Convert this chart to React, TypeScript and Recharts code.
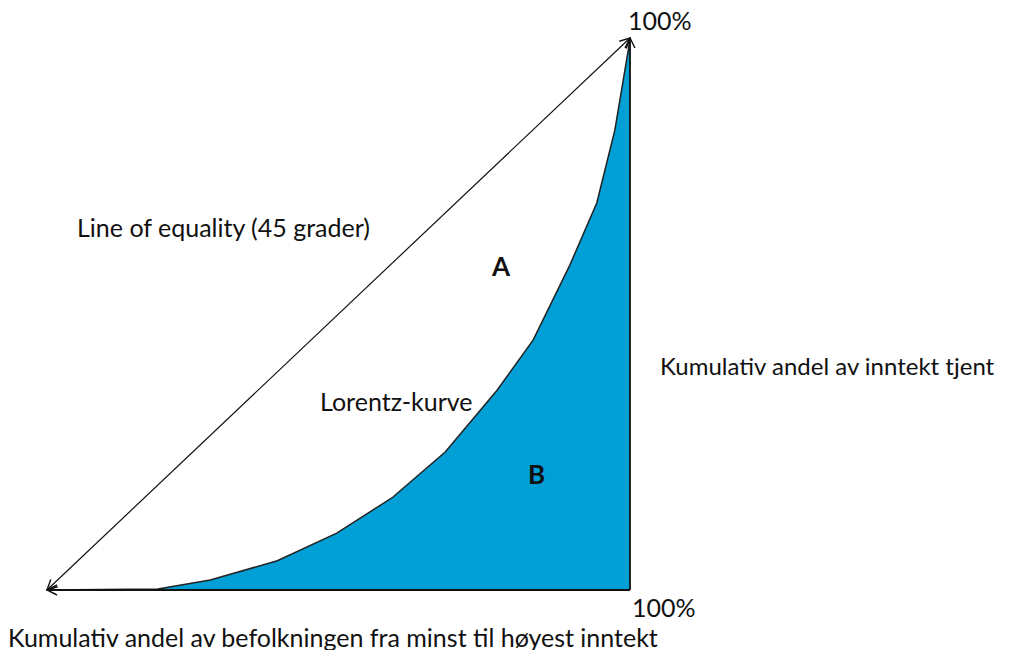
import { ComposedChart, Area, Line, XAxis, YAxis } from "recharts";

// Lorenz curve (% of population, % of income)
const popShare = [0, 19, 28, 39.5, 49.7, 59.3, 68.3, 77.2, 83.4, 89.7, 94.3, 97.4, 99.7, 100];
const incomeShare = [0, 0.2, 1.8, 5.3, 10.3, 16.8, 25, 36.2, 45.3, 58.9, 70.1, 83.3, 97.8, 100];

const equalityX = [0, 100];
const equalityY = [0, 100];

const lorenz = popShare.map((x, i) => ({ x, y: incomeShare[i] }));
const equality = equalityX.map((x, i) => ({ x, y: equalityY[i] }));
const bottomAxis = [{ x: 0, y: 0 }, { x: 100, y: 0 }];
const rightAxis = [{ x: 100, y: 0 }, { x: 100, y: 100 }];

const font = "Lato, 'Noto Sans', sans-serif";

const labelStyle = (left: number, top: number, size = 25, bold = false): React.CSSProperties => ({
  position: "absolute",
  left,
  top,
  fontFamily: font,
  fontSize: size,
  fontWeight: bold ? 700 : 400,
  color: "#111",
  whiteSpace: "nowrap",
  lineHeight: 1,
});

export default function App() {
  return (
    <div style={{ position: "relative", width: 1016, height: 658, margin: -8, background: "#fff" }}>
      <svg width={0} height={0} style={{ position: "absolute" }}>
        <defs>
          <marker
            id="arrow"
            viewBox="0 0 12 12"
            refX={11}
            refY={6}
            markerWidth={12}
            markerHeight={12}
            markerUnits="userSpaceOnUse"
            orient="auto-start-reverse"
          >
            <path d="M1,1 L11,6 L1,11" fill="none" stroke="#111" strokeWidth={1.4} />
          </marker>
        </defs>
      </svg>
      <ComposedChart
        width={1016}
        height={658}
        margin={{ top: 38, right: 386, bottom: 68, left: 47 }}
      >
        <XAxis type="number" dataKey="x" domain={[0, 100]} hide />
        <YAxis type="number" dataKey="y" domain={[0, 100]} hide />
        <Area
          data={lorenz}
          dataKey="y"
          type="linear"
          fill="#009fd6"
          fillOpacity={1}
          stroke="#222"
          strokeWidth={1.5}
          isAnimationActive={false}
        />
        <Line
          data={bottomAxis}
          dataKey="y"
          stroke="#111"
          strokeWidth={1.8}
          dot={false}
          markerStart="url(#arrow)"
          isAnimationActive={false}
        />
        <Line
          data={rightAxis}
          dataKey="y"
          stroke="#111"
          strokeWidth={1.8}
          dot={false}
          markerEnd="url(#arrow)"
          isAnimationActive={false}
        />
        <Line
          data={equality}
          dataKey="y"
          stroke="#111"
          strokeWidth={1.2}
          dot={false}
          markerStart="url(#arrow)"
          markerEnd="url(#arrow)"
          isAnimationActive={false}
        />
      </ComposedChart>

      <div style={labelStyle(628, 8)}>100%</div>
      <div style={labelStyle(77, 215)}>Line of equality (45 grader)</div>
      <div style={labelStyle(492, 253, 26, true)}>A</div>
      <div style={labelStyle(320, 389)}>Lorentz-kurve</div>
      <div style={labelStyle(528, 461, 26, true)}>B</div>
      <div style={labelStyle(660, 354, 24)}>Kumulativ andel av inntekt tjent</div>
      <div style={labelStyle(632, 595)}>100%</div>
      <div style={labelStyle(8, 625)}>Kumulativ andel av befolkningen fra minst til høyest inntekt</div>
    </div>
  );
}
